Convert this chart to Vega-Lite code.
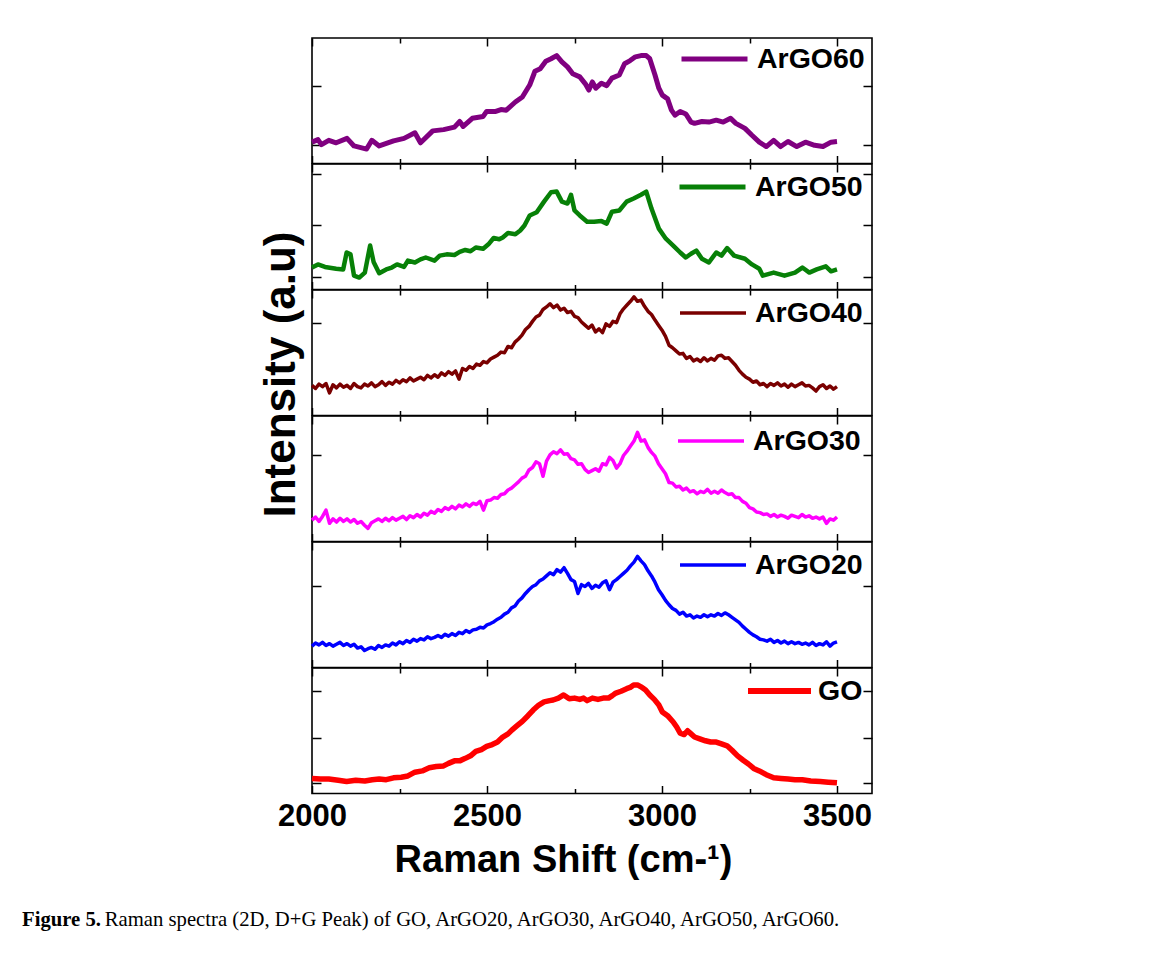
{
  "$schema": "https://vega.github.io/schema/vega-lite/v6.json",
  "background": "white",
  "padding": {"left": 22, "top": 36, "right": 10, "bottom": 10},
  "bounds": "flush",
  "config": {
    "view": {"stroke": "black", "strokeWidth": 1.6},
    "axis": {"domain": false, "grid": false, "tickColor": "black", "tickWidth": 1.5, "labels": false},
    "legend": {"title": null}
  },
  "title": {
    "text": "Figure 5.",
    "subtitle": "\u200b\u2003\u2003\u2003\u2003Raman spectra (2D, D+G Peak) of GO, ArGO20, ArGO30, ArGO40, ArGO50, ArGO60.",
    "orient": "bottom", "anchor": "start", "frame": "group", "dx": -290, "offset": 30,
    "font": "Liberation Serif", "fontSize": 20.7, "fontWeight": "bold", "color": "black",
    "subtitleFont": "Liberation Serif", "subtitleFontSize": 20.7, "subtitleFontWeight": "normal",
    "subtitleColor": "black", "subtitlePadding": -20.7
  },
  "datasets": {
    "ArGO60": [
      {"shift":2000,"intensity":17},{"shift":2017,"intensity":19},{"shift":2027,"intensity":15},{"shift":2048,"intensity":18.5},{"shift":2069,"intensity":16.5},{"shift":2100,"intensity":20},{"shift":2120,"intensity":14},{"shift":2156,"intensity":11.5},{"shift":2171,"intensity":18.5},{"shift":2192,"intensity":14},{"shift":2233,"intensity":18},{"shift":2263,"intensity":20},{"shift":2294,"intensity":24.5},{"shift":2310,"intensity":16.5},{"shift":2345,"intensity":26},{"shift":2376,"intensity":27},{"shift":2407,"intensity":29},{"shift":2422,"intensity":33.5},{"shift":2432,"intensity":29.5},{"shift":2458,"intensity":36},{"shift":2489,"intensity":37.5},{"shift":2499,"intensity":41.5},{"shift":2525,"intensity":41.5},{"shift":2540,"intensity":43},{"shift":2555,"intensity":42.5},{"shift":2581,"intensity":49},{"shift":2601,"intensity":53},{"shift":2622,"intensity":62.5},{"shift":2637,"intensity":73.5},{"shift":2652,"intensity":75.5},{"shift":2668,"intensity":81.5},{"shift":2683,"intensity":83.5},{"shift":2699,"intensity":86},{"shift":2714,"intensity":81},{"shift":2730,"intensity":77},{"shift":2745,"intensity":71.5},{"shift":2765,"intensity":69},{"shift":2781,"intensity":63.5},{"shift":2791,"intensity":58.5},{"shift":2801,"intensity":65},{"shift":2811,"intensity":60},{"shift":2827,"intensity":64},{"shift":2842,"intensity":62},{"shift":2857,"intensity":68},{"shift":2878,"intensity":70.5},{"shift":2893,"intensity":79.5},{"shift":2909,"intensity":82},{"shift":2924,"intensity":85},{"shift":2940,"intensity":86},{"shift":2955,"intensity":86},{"shift":2965,"intensity":83.5},{"shift":2980,"intensity":70.5},{"shift":2991,"intensity":60},{"shift":3001,"intensity":54.5},{"shift":3016,"intensity":51.5},{"shift":3027,"intensity":42.5},{"shift":3037,"intensity":38.5},{"shift":3052,"intensity":41.5},{"shift":3068,"intensity":39.5},{"shift":3083,"intensity":33},{"shift":3093,"intensity":32},{"shift":3114,"intensity":33.5},{"shift":3134,"intensity":33},{"shift":3155,"intensity":34.5},{"shift":3175,"intensity":33},{"shift":3196,"intensity":36},{"shift":3211,"intensity":32},{"shift":3237,"intensity":28},{"shift":3257,"intensity":22.5},{"shift":3278,"intensity":17},{"shift":3298,"intensity":13.5},{"shift":3319,"intensity":18.5},{"shift":3339,"intensity":13.5},{"shift":3360,"intensity":17.5},{"shift":3385,"intensity":13.5},{"shift":3410,"intensity":17},{"shift":3436,"intensity":14.5},{"shift":3460,"intensity":13.5},{"shift":3483,"intensity":17},{"shift":3500,"intensity":17.5}
    ],
    "ArGO50": [
      {"shift":2000,"intensity":17.5},{"shift":2017,"intensity":20},{"shift":2037,"intensity":18},{"shift":2069,"intensity":16.5},{"shift":2089,"intensity":16},{"shift":2099,"intensity":29.5},{"shift":2110,"intensity":28},{"shift":2120,"intensity":11},{"shift":2135,"intensity":9.5},{"shift":2151,"intensity":13.5},{"shift":2166,"intensity":35},{"shift":2176,"intensity":22},{"shift":2192,"intensity":13},{"shift":2212,"intensity":16},{"shift":2228,"intensity":17.5},{"shift":2243,"intensity":20},{"shift":2263,"intensity":18},{"shift":2274,"intensity":23},{"shift":2294,"intensity":21.5},{"shift":2310,"intensity":24},{"shift":2325,"intensity":25.5},{"shift":2350,"intensity":23},{"shift":2365,"intensity":27},{"shift":2385,"intensity":28},{"shift":2407,"intensity":27.5},{"shift":2422,"intensity":30},{"shift":2438,"intensity":31.5},{"shift":2453,"intensity":30.5},{"shift":2468,"intensity":33.5},{"shift":2489,"intensity":32.5},{"shift":2504,"intensity":36},{"shift":2519,"intensity":41},{"shift":2535,"intensity":40},{"shift":2545,"intensity":41.5},{"shift":2560,"intensity":45},{"shift":2581,"intensity":44},{"shift":2595,"intensity":47},{"shift":2607,"intensity":51},{"shift":2622,"intensity":59},{"shift":2642,"intensity":61.5},{"shift":2663,"intensity":70},{"shift":2683,"intensity":77.5},{"shift":2699,"intensity":78},{"shift":2714,"intensity":70},{"shift":2730,"intensity":68.5},{"shift":2740,"intensity":75.5},{"shift":2750,"intensity":63},{"shift":2765,"intensity":59},{"shift":2786,"intensity":54},{"shift":2806,"intensity":54},{"shift":2827,"intensity":54.5},{"shift":2842,"intensity":52.5},{"shift":2857,"intensity":62},{"shift":2878,"intensity":63},{"shift":2899,"intensity":70},{"shift":2919,"intensity":72.5},{"shift":2940,"intensity":75.5},{"shift":2955,"intensity":78},{"shift":2970,"intensity":64.5},{"shift":2991,"intensity":48.5},{"shift":3011,"intensity":40.5},{"shift":3032,"intensity":35},{"shift":3052,"intensity":29.5},{"shift":3068,"intensity":25.5},{"shift":3083,"intensity":28.5},{"shift":3098,"intensity":31},{"shift":3114,"intensity":24.5},{"shift":3134,"intensity":21.5},{"shift":3155,"intensity":29.5},{"shift":3170,"intensity":27},{"shift":3186,"intensity":33},{"shift":3206,"intensity":27},{"shift":3237,"intensity":24.5},{"shift":3257,"intensity":20},{"shift":3278,"intensity":16.5},{"shift":3288,"intensity":11},{"shift":3319,"intensity":13.5},{"shift":3350,"intensity":11},{"shift":3380,"intensity":13.5},{"shift":3401,"intensity":17.5},{"shift":3421,"intensity":13.5},{"shift":3442,"intensity":16},{"shift":3468,"intensity":18.5},{"shift":3483,"intensity":14.5},{"shift":3500,"intensity":16}
    ],
    "ArGO40": [
      {"shift":2000,"intensity":24},{"shift":2010,"intensity":21.5},{"shift":2020,"intensity":25},{"shift":2030,"intensity":23},{"shift":2040,"intensity":25.5},{"shift":2050,"intensity":18},{"shift":2060,"intensity":24.5},{"shift":2070,"intensity":22},{"shift":2080,"intensity":25},{"shift":2090,"intensity":22.5},{"shift":2100,"intensity":24},{"shift":2110,"intensity":21.5},{"shift":2120,"intensity":25.5},{"shift":2130,"intensity":23},{"shift":2140,"intensity":22},{"shift":2150,"intensity":25},{"shift":2160,"intensity":23.5},{"shift":2170,"intensity":26},{"shift":2180,"intensity":23},{"shift":2190,"intensity":24.5},{"shift":2200,"intensity":27},{"shift":2210,"intensity":24},{"shift":2220,"intensity":26.5},{"shift":2230,"intensity":25},{"shift":2240,"intensity":28},{"shift":2250,"intensity":26},{"shift":2260,"intensity":28.5},{"shift":2270,"intensity":27},{"shift":2280,"intensity":30},{"shift":2290,"intensity":27.5},{"shift":2300,"intensity":29},{"shift":2310,"intensity":30.5},{"shift":2320,"intensity":28.5},{"shift":2330,"intensity":32},{"shift":2340,"intensity":30},{"shift":2350,"intensity":32.5},{"shift":2360,"intensity":30.5},{"shift":2370,"intensity":34},{"shift":2380,"intensity":32},{"shift":2390,"intensity":35},{"shift":2400,"intensity":33},{"shift":2410,"intensity":35.5},{"shift":2420,"intensity":29},{"shift":2430,"intensity":37.5},{"shift":2440,"intensity":36},{"shift":2450,"intensity":39},{"shift":2460,"intensity":37.5},{"shift":2470,"intensity":41},{"shift":2480,"intensity":40},{"shift":2490,"intensity":43},{"shift":2500,"intensity":42},{"shift":2510,"intensity":45},{"shift":2520,"intensity":46.5},{"shift":2530,"intensity":48},{"shift":2540,"intensity":50.5},{"shift":2550,"intensity":50},{"shift":2560,"intensity":55},{"shift":2570,"intensity":54},{"shift":2580,"intensity":58.5},{"shift":2590,"intensity":61},{"shift":2600,"intensity":64},{"shift":2610,"intensity":68.5},{"shift":2620,"intensity":71},{"shift":2630,"intensity":75},{"shift":2640,"intensity":78.5},{"shift":2650,"intensity":80},{"shift":2660,"intensity":84.5},{"shift":2670,"intensity":86.5},{"shift":2680,"intensity":89},{"shift":2690,"intensity":86},{"shift":2700,"intensity":88},{"shift":2710,"intensity":84},{"shift":2720,"intensity":85.5},{"shift":2730,"intensity":82},{"shift":2740,"intensity":83},{"shift":2750,"intensity":79},{"shift":2760,"intensity":78},{"shift":2770,"intensity":74.5},{"shift":2780,"intensity":72},{"shift":2790,"intensity":69.5},{"shift":2800,"intensity":72},{"shift":2810,"intensity":66.5},{"shift":2820,"intensity":69},{"shift":2830,"intensity":66},{"shift":2840,"intensity":73},{"shift":2850,"intensity":71},{"shift":2860,"intensity":75},{"shift":2870,"intensity":74},{"shift":2880,"intensity":81},{"shift":2890,"intensity":85},{"shift":2900,"intensity":88},{"shift":2910,"intensity":91},{"shift":2920,"intensity":94.5},{"shift":2930,"intensity":91},{"shift":2940,"intensity":92},{"shift":2950,"intensity":87},{"shift":2960,"intensity":83},{"shift":2970,"intensity":80.5},{"shift":2980,"intensity":76},{"shift":2990,"intensity":72},{"shift":3000,"intensity":68},{"shift":3010,"intensity":63},{"shift":3020,"intensity":56},{"shift":3030,"intensity":54},{"shift":3040,"intensity":51.5},{"shift":3050,"intensity":49},{"shift":3060,"intensity":49.5},{"shift":3070,"intensity":45.5},{"shift":3080,"intensity":47},{"shift":3090,"intensity":43.5},{"shift":3100,"intensity":45},{"shift":3110,"intensity":43},{"shift":3120,"intensity":46},{"shift":3130,"intensity":43.5},{"shift":3140,"intensity":45.5},{"shift":3150,"intensity":44},{"shift":3160,"intensity":47.5},{"shift":3170,"intensity":48},{"shift":3180,"intensity":45.5},{"shift":3190,"intensity":46},{"shift":3200,"intensity":43},{"shift":3210,"intensity":40},{"shift":3220,"intensity":36},{"shift":3230,"intensity":33},{"shift":3240,"intensity":30.5},{"shift":3250,"intensity":29},{"shift":3260,"intensity":26.5},{"shift":3270,"intensity":27.5},{"shift":3280,"intensity":24.5},{"shift":3290,"intensity":25.5},{"shift":3300,"intensity":23},{"shift":3310,"intensity":25.5},{"shift":3320,"intensity":24},{"shift":3330,"intensity":26},{"shift":3340,"intensity":23.5},{"shift":3350,"intensity":25},{"shift":3360,"intensity":22.5},{"shift":3370,"intensity":25},{"shift":3380,"intensity":23},{"shift":3390,"intensity":24.5},{"shift":3400,"intensity":26},{"shift":3410,"intensity":23.5},{"shift":3420,"intensity":24},{"shift":3430,"intensity":22},{"shift":3440,"intensity":19.5},{"shift":3450,"intensity":23},{"shift":3460,"intensity":24.5},{"shift":3470,"intensity":21.5},{"shift":3480,"intensity":23.5},{"shift":3490,"intensity":21},{"shift":3500,"intensity":23}
    ],
    "ArGO30": [
      {"shift":2000,"intensity":17},{"shift":2010,"intensity":19.5},{"shift":2020,"intensity":16},{"shift":2030,"intensity":20},{"shift":2040,"intensity":25},{"shift":2050,"intensity":14.5},{"shift":2060,"intensity":18},{"shift":2070,"intensity":15.5},{"shift":2080,"intensity":18.5},{"shift":2090,"intensity":16},{"shift":2100,"intensity":18},{"shift":2110,"intensity":15.5},{"shift":2120,"intensity":17.5},{"shift":2130,"intensity":14.5},{"shift":2140,"intensity":16},{"shift":2150,"intensity":13},{"shift":2160,"intensity":10.5},{"shift":2170,"intensity":15},{"shift":2180,"intensity":16.5},{"shift":2190,"intensity":18},{"shift":2200,"intensity":16},{"shift":2210,"intensity":18.5},{"shift":2220,"intensity":16.5},{"shift":2230,"intensity":19},{"shift":2240,"intensity":17},{"shift":2250,"intensity":18.5},{"shift":2260,"intensity":20},{"shift":2270,"intensity":17.5},{"shift":2280,"intensity":20.5},{"shift":2290,"intensity":19},{"shift":2300,"intensity":21.5},{"shift":2310,"intensity":19.5},{"shift":2320,"intensity":22.5},{"shift":2330,"intensity":21},{"shift":2340,"intensity":24},{"shift":2350,"intensity":22.5},{"shift":2360,"intensity":25.5},{"shift":2370,"intensity":24},{"shift":2380,"intensity":27},{"shift":2390,"intensity":25.5},{"shift":2400,"intensity":28},{"shift":2410,"intensity":26},{"shift":2420,"intensity":29},{"shift":2430,"intensity":27.5},{"shift":2440,"intensity":30},{"shift":2450,"intensity":28},{"shift":2460,"intensity":30.5},{"shift":2470,"intensity":29.5},{"shift":2480,"intensity":32},{"shift":2490,"intensity":25},{"shift":2500,"intensity":32.5},{"shift":2510,"intensity":33},{"shift":2520,"intensity":35},{"shift":2530,"intensity":34.5},{"shift":2540,"intensity":37.5},{"shift":2550,"intensity":38},{"shift":2560,"intensity":41},{"shift":2570,"intensity":42.5},{"shift":2580,"intensity":45},{"shift":2590,"intensity":47.5},{"shift":2600,"intensity":50.5},{"shift":2610,"intensity":52},{"shift":2620,"intensity":57},{"shift":2630,"intensity":59},{"shift":2640,"intensity":63.5},{"shift":2650,"intensity":62},{"shift":2660,"intensity":52},{"shift":2670,"intensity":64},{"shift":2680,"intensity":69},{"shift":2690,"intensity":71.5},{"shift":2700,"intensity":70},{"shift":2710,"intensity":73},{"shift":2720,"intensity":69.5},{"shift":2730,"intensity":70},{"shift":2740,"intensity":66},{"shift":2750,"intensity":65},{"shift":2760,"intensity":61.5},{"shift":2770,"intensity":62},{"shift":2780,"intensity":57.5},{"shift":2790,"intensity":55},{"shift":2800,"intensity":56.5},{"shift":2810,"intensity":58},{"shift":2820,"intensity":56},{"shift":2830,"intensity":62},{"shift":2840,"intensity":61},{"shift":2850,"intensity":67},{"shift":2860,"intensity":64.5},{"shift":2870,"intensity":58.5},{"shift":2880,"intensity":62},{"shift":2890,"intensity":68.5},{"shift":2900,"intensity":72},{"shift":2910,"intensity":76},{"shift":2920,"intensity":80},{"shift":2930,"intensity":87},{"shift":2940,"intensity":80},{"shift":2950,"intensity":81},{"shift":2960,"intensity":75},{"shift":2970,"intensity":71},{"shift":2980,"intensity":68},{"shift":2990,"intensity":62},{"shift":3000,"intensity":58},{"shift":3010,"intensity":54},{"shift":3020,"intensity":47},{"shift":3030,"intensity":46.5},{"shift":3040,"intensity":43.5},{"shift":3050,"intensity":44},{"shift":3060,"intensity":41},{"shift":3070,"intensity":42.5},{"shift":3080,"intensity":39.5},{"shift":3090,"intensity":40.5},{"shift":3100,"intensity":38},{"shift":3110,"intensity":40},{"shift":3120,"intensity":39},{"shift":3130,"intensity":41.5},{"shift":3140,"intensity":38.5},{"shift":3150,"intensity":40},{"shift":3160,"intensity":38.5},{"shift":3170,"intensity":41},{"shift":3180,"intensity":39},{"shift":3190,"intensity":37.5},{"shift":3200,"intensity":38},{"shift":3210,"intensity":35},{"shift":3220,"intensity":35},{"shift":3230,"intensity":32},{"shift":3240,"intensity":30.5},{"shift":3250,"intensity":27},{"shift":3260,"intensity":26},{"shift":3270,"intensity":23.5},{"shift":3280,"intensity":23},{"shift":3290,"intensity":21.5},{"shift":3300,"intensity":22},{"shift":3310,"intensity":20},{"shift":3320,"intensity":21.5},{"shift":3330,"intensity":19.5},{"shift":3340,"intensity":21},{"shift":3350,"intensity":20},{"shift":3360,"intensity":18.5},{"shift":3370,"intensity":21},{"shift":3380,"intensity":20},{"shift":3390,"intensity":19},{"shift":3400,"intensity":21.5},{"shift":3410,"intensity":19.5},{"shift":3420,"intensity":20.5},{"shift":3430,"intensity":18.5},{"shift":3440,"intensity":19.5},{"shift":3450,"intensity":18},{"shift":3460,"intensity":19.5},{"shift":3470,"intensity":14.5},{"shift":3480,"intensity":18},{"shift":3490,"intensity":17},{"shift":3500,"intensity":19.5}
    ],
    "ArGO20": [
      {"shift":2000,"intensity":17},{"shift":2010,"intensity":19.5},{"shift":2020,"intensity":18},{"shift":2030,"intensity":20},{"shift":2040,"intensity":17.5},{"shift":2050,"intensity":19},{"shift":2060,"intensity":17},{"shift":2070,"intensity":18.5},{"shift":2080,"intensity":20},{"shift":2090,"intensity":17.5},{"shift":2100,"intensity":19},{"shift":2110,"intensity":17},{"shift":2120,"intensity":18.5},{"shift":2130,"intensity":15.5},{"shift":2140,"intensity":16.5},{"shift":2150,"intensity":13.5},{"shift":2160,"intensity":15},{"shift":2170,"intensity":16},{"shift":2180,"intensity":14.5},{"shift":2190,"intensity":17.5},{"shift":2200,"intensity":16},{"shift":2210,"intensity":18},{"shift":2220,"intensity":17},{"shift":2230,"intensity":19.5},{"shift":2240,"intensity":18},{"shift":2250,"intensity":20.5},{"shift":2260,"intensity":19},{"shift":2270,"intensity":21.5},{"shift":2280,"intensity":20},{"shift":2290,"intensity":22.5},{"shift":2300,"intensity":21},{"shift":2310,"intensity":23},{"shift":2320,"intensity":22},{"shift":2330,"intensity":24.5},{"shift":2340,"intensity":23},{"shift":2350,"intensity":24},{"shift":2360,"intensity":25.5},{"shift":2370,"intensity":24},{"shift":2380,"intensity":26.5},{"shift":2390,"intensity":25},{"shift":2400,"intensity":27},{"shift":2410,"intensity":25.5},{"shift":2420,"intensity":28},{"shift":2430,"intensity":27},{"shift":2440,"intensity":29.5},{"shift":2450,"intensity":28},{"shift":2460,"intensity":30},{"shift":2470,"intensity":30.5},{"shift":2480,"intensity":32},{"shift":2490,"intensity":31.5},{"shift":2500,"intensity":34},{"shift":2510,"intensity":35},{"shift":2520,"intensity":36.5},{"shift":2530,"intensity":38.5},{"shift":2540,"intensity":40},{"shift":2550,"intensity":42.5},{"shift":2560,"intensity":44},{"shift":2570,"intensity":47.5},{"shift":2580,"intensity":49},{"shift":2590,"intensity":53},{"shift":2600,"intensity":55.5},{"shift":2610,"intensity":59},{"shift":2620,"intensity":62},{"shift":2630,"intensity":64.5},{"shift":2640,"intensity":66},{"shift":2650,"intensity":69},{"shift":2660,"intensity":70.5},{"shift":2670,"intensity":73},{"shift":2680,"intensity":75.5},{"shift":2690,"intensity":74},{"shift":2700,"intensity":78},{"shift":2710,"intensity":76},{"shift":2720,"intensity":79.5},{"shift":2730,"intensity":75},{"shift":2740,"intensity":70},{"shift":2750,"intensity":68.5},{"shift":2760,"intensity":59},{"shift":2770,"intensity":66},{"shift":2780,"intensity":64.5},{"shift":2790,"intensity":67},{"shift":2800,"intensity":63},{"shift":2810,"intensity":65.5},{"shift":2820,"intensity":64},{"shift":2830,"intensity":67.5},{"shift":2840,"intensity":69},{"shift":2850,"intensity":62},{"shift":2860,"intensity":68},{"shift":2870,"intensity":70},{"shift":2880,"intensity":72.5},{"shift":2890,"intensity":75},{"shift":2900,"intensity":77.5},{"shift":2910,"intensity":81},{"shift":2920,"intensity":84},{"shift":2930,"intensity":88.5},{"shift":2940,"intensity":85},{"shift":2950,"intensity":82},{"shift":2960,"intensity":77},{"shift":2970,"intensity":73},{"shift":2980,"intensity":68},{"shift":2990,"intensity":62},{"shift":3000,"intensity":58},{"shift":3010,"intensity":53.5},{"shift":3020,"intensity":50},{"shift":3030,"intensity":47},{"shift":3040,"intensity":45.5},{"shift":3050,"intensity":42.5},{"shift":3060,"intensity":44},{"shift":3070,"intensity":41},{"shift":3080,"intensity":42},{"shift":3090,"intensity":39.5},{"shift":3100,"intensity":41},{"shift":3110,"intensity":40},{"shift":3120,"intensity":42},{"shift":3130,"intensity":40.5},{"shift":3140,"intensity":42},{"shift":3150,"intensity":41},{"shift":3160,"intensity":43},{"shift":3170,"intensity":41.5},{"shift":3180,"intensity":43.5},{"shift":3190,"intensity":42},{"shift":3200,"intensity":40},{"shift":3210,"intensity":38},{"shift":3220,"intensity":36},{"shift":3230,"intensity":33},{"shift":3240,"intensity":30.5},{"shift":3250,"intensity":28},{"shift":3260,"intensity":26},{"shift":3270,"intensity":24.5},{"shift":3280,"intensity":22.5},{"shift":3290,"intensity":22},{"shift":3300,"intensity":21},{"shift":3310,"intensity":22.5},{"shift":3320,"intensity":20},{"shift":3330,"intensity":21.5},{"shift":3340,"intensity":19.5},{"shift":3350,"intensity":21},{"shift":3360,"intensity":19},{"shift":3370,"intensity":20.5},{"shift":3380,"intensity":19},{"shift":3390,"intensity":20},{"shift":3400,"intensity":18.5},{"shift":3410,"intensity":19.5},{"shift":3420,"intensity":18},{"shift":3430,"intensity":20},{"shift":3440,"intensity":17.5},{"shift":3450,"intensity":19},{"shift":3460,"intensity":18},{"shift":3470,"intensity":20.5},{"shift":3480,"intensity":17},{"shift":3490,"intensity":19.5},{"shift":3500,"intensity":20.5}
    ],
    "GO": [
      {"shift":2000,"intensity":12},{"shift":2024,"intensity":11.5},{"shift":2048,"intensity":11.5},{"shift":2075,"intensity":10.5},{"shift":2099,"intensity":9.5},{"shift":2125,"intensity":10.5},{"shift":2151,"intensity":10},{"shift":2172,"intensity":11},{"shift":2192,"intensity":11.5},{"shift":2212,"intensity":11},{"shift":2233,"intensity":12.5},{"shift":2255,"intensity":13},{"shift":2274,"intensity":14},{"shift":2294,"intensity":17},{"shift":2315,"intensity":18},{"shift":2335,"intensity":20.5},{"shift":2355,"intensity":21.5},{"shift":2376,"intensity":22},{"shift":2390,"intensity":24},{"shift":2407,"intensity":26},{"shift":2422,"intensity":26},{"shift":2438,"intensity":28},{"shift":2453,"intensity":30},{"shift":2468,"intensity":33.5},{"shift":2484,"intensity":35},{"shift":2499,"intensity":37.5},{"shift":2515,"intensity":39},{"shift":2530,"intensity":41},{"shift":2545,"intensity":45},{"shift":2560,"intensity":47.5},{"shift":2571,"intensity":50.5},{"shift":2586,"intensity":54},{"shift":2601,"intensity":57.5},{"shift":2617,"intensity":62},{"shift":2632,"intensity":66.5},{"shift":2648,"intensity":70.5},{"shift":2663,"intensity":73},{"shift":2679,"intensity":74},{"shift":2689,"intensity":74.5},{"shift":2704,"intensity":76},{"shift":2719,"intensity":78.5},{"shift":2735,"intensity":75.5},{"shift":2750,"intensity":76},{"shift":2765,"intensity":75},{"shift":2776,"intensity":76},{"shift":2786,"intensity":74},{"shift":2801,"intensity":76},{"shift":2817,"intensity":75},{"shift":2832,"intensity":76},{"shift":2847,"intensity":76},{"shift":2858,"intensity":78},{"shift":2868,"intensity":80},{"shift":2883,"intensity":81.5},{"shift":2899,"intensity":83.5},{"shift":2909,"intensity":84.5},{"shift":2919,"intensity":86.5},{"shift":2930,"intensity":86.5},{"shift":2940,"intensity":85},{"shift":2953,"intensity":82.5},{"shift":2965,"intensity":78.5},{"shift":2978,"intensity":75},{"shift":2991,"intensity":70.5},{"shift":3001,"intensity":65},{"shift":3016,"intensity":62},{"shift":3032,"intensity":57},{"shift":3042,"intensity":53},{"shift":3052,"intensity":48},{"shift":3063,"intensity":47},{"shift":3073,"intensity":50},{"shift":3083,"intensity":47.5},{"shift":3093,"intensity":45},{"shift":3108,"intensity":43.5},{"shift":3124,"intensity":42},{"shift":3139,"intensity":41},{"shift":3155,"intensity":41},{"shift":3170,"intensity":39.5},{"shift":3186,"intensity":38},{"shift":3200,"intensity":34.5},{"shift":3216,"intensity":30},{"shift":3232,"intensity":26.5},{"shift":3247,"intensity":23.5},{"shift":3262,"intensity":20},{"shift":3278,"intensity":18},{"shift":3298,"intensity":15},{"shift":3319,"intensity":12.5},{"shift":3340,"intensity":12},{"shift":3360,"intensity":11.5},{"shift":3380,"intensity":11},{"shift":3401,"intensity":11},{"shift":3425,"intensity":10},{"shift":3452,"intensity":9.5},{"shift":3475,"intensity":9},{"shift":3500,"intensity":8.5}
    ]
  },
  "spacing": 0,
  "resolve": {"scale": {"color": "independent"}, "legend": {"color": "independent"}},
  "vconcat": [
    {
      "width": 560, "height": 125.5,
      "data": {"name": "ArGO60"},
      "layer": [
        {"mark": {"type": "line", "strokeWidth": 5, "strokeJoin": "round"},
         "encoding": {
           "x": {"field": "shift", "type": "quantitative", "scale": {"domain": [2000, 3500]}, "axis": {"orient": "bottom", "title": null, "values": [2000, 2250, 2500, 2750, 3000, 3250, 3500], "tickSize": {"condition": {"test": "datum.value % 500 === 0", "value": -8}, "value": -5}}},
           "y": {"field": "intensity", "type": "quantitative", "scale": {"domain": [0, 100]}, "axis": {"orient": "left", "title": null, "values": [15, 62], "tickSize": -9}},
           "color": {"datum": "ArGO60", "type": "nominal", "scale": {"domain": ["ArGO60"], "range": ["#800080"]},
             "legend": {"orient": "top-right", "offset": 7, "symbolType": "stroke", "symbolSize": 4356, "symbolStrokeWidth": 5, "clipHeight": 28, "labelFont": "Liberation Sans", "labelFontSize": 28.5, "labelFontWeight": "bold", "labelColor": "black", "labelOffset": 7, "padding": 0}}
         }},
        {"mark": {"type": "point", "opacity": 0},
         "encoding": {
           "x": {"field": "shift", "type": "quantitative", "axis": {"orient": "top", "title": null, "values": [2000, 2250, 2500, 2750, 3000, 3250, 3500], "tickSize": {"condition": {"test": "datum.value % 500 === 0", "value": -8}, "value": -5}}},
           "y": {"field": "intensity", "type": "quantitative", "axis": {"orient": "right", "title": null, "values": [15, 62], "tickSize": -9}}
         }}
      ],
      "resolve": {"axis": {"x": "independent", "y": "independent"}}
    },
    {
      "width": 560, "height": 125.5,
      "data": {"name": "ArGO50"},
      "layer": [
        {"mark": {"type": "line", "strokeWidth": 4.5, "strokeJoin": "round"},
         "encoding": {
           "x": {"field": "shift", "type": "quantitative", "scale": {"domain": [2000, 3500]}, "axis": {"orient": "bottom", "title": null, "values": [2000, 2250, 2500, 2750, 3000, 3250, 3500], "tickSize": {"condition": {"test": "datum.value % 500 === 0", "value": -8}, "value": -5}}},
           "y": {"field": "intensity", "type": "quantitative", "scale": {"domain": [0, 100]}, "axis": {"orient": "left", "title": null, "values": [10, 51.5, 92], "tickSize": -9}},
           "color": {"datum": "ArGO50", "type": "nominal", "scale": {"domain": ["ArGO50"], "range": ["#078007"]},
             "legend": {"orient": "top-right", "offset": 9, "symbolType": "stroke", "symbolSize": 4356, "symbolStrokeWidth": 5, "clipHeight": 28, "labelFont": "Liberation Sans", "labelFontSize": 28.5, "labelFontWeight": "bold", "labelColor": "black", "labelOffset": 7, "padding": 0}}
         }},
        {"mark": {"type": "point", "opacity": 0},
         "encoding": {
           "x": {"field": "shift", "type": "quantitative", "axis": {"orient": "top", "title": null, "values": [2000, 2250, 2500, 2750, 3000, 3250, 3500], "tickSize": {"condition": {"test": "datum.value % 500 === 0", "value": -8}, "value": -5}}},
           "y": {"field": "intensity", "type": "quantitative", "axis": {"orient": "right", "title": null, "values": [10, 51.5, 92], "tickSize": -9}}
         }}
      ],
      "resolve": {"axis": {"x": "independent", "y": "independent"}}
    },
    {
      "width": 560, "height": 125.5,
      "data": {"name": "ArGO40"},
      "layer": [
        {"mark": {"type": "line", "strokeWidth": 3.5, "strokeJoin": "round"},
         "encoding": {
           "x": {"field": "shift", "type": "quantitative", "scale": {"domain": [2000, 3500]}, "axis": {"orient": "bottom", "title": null, "values": [2000, 2250, 2500, 2750, 3000, 3250, 3500], "tickSize": {"condition": {"test": "datum.value % 500 === 0", "value": -8}, "value": -5}}},
           "y": {"field": "intensity", "type": "quantitative", "scale": {"domain": [0, 100]}, "axis": {"orient": "left", "values": [73.5], "tickSize": -9,
             "title": "Intensity (a.u)", "titleFont": "Liberation Sans", "titleFontSize": 44, "titleFontWeight": "bold", "titleColor": "black", "titleAngle": 270, "titleAlign": "center", "titleBaseline": "alphabetic", "titleX": -18, "titleY": 84}},
           "color": {"datum": "ArGO40", "type": "nominal", "scale": {"domain": ["ArGO40"], "range": ["#7a0000"]},
             "legend": {"orient": "top-right", "offset": 9, "symbolType": "stroke", "symbolSize": 4356, "symbolStrokeWidth": 3.5, "clipHeight": 28, "labelFont": "Liberation Sans", "labelFontSize": 28.5, "labelFontWeight": "bold", "labelColor": "black", "labelOffset": 7, "padding": 0}}
         }},
        {"mark": {"type": "point", "opacity": 0},
         "encoding": {
           "x": {"field": "shift", "type": "quantitative", "axis": {"orient": "top", "title": null, "values": [2000, 2250, 2500, 2750, 3000, 3250, 3500], "tickSize": {"condition": {"test": "datum.value % 500 === 0", "value": -8}, "value": -5}}},
           "y": {"field": "intensity", "type": "quantitative", "axis": {"orient": "right", "title": null, "values": [73.5], "tickSize": -9}}
         }}
      ],
      "resolve": {"axis": {"x": "independent", "y": "independent"}}
    },
    {
      "width": 560, "height": 125.5,
      "data": {"name": "ArGO30"},
      "layer": [
        {"mark": {"type": "line", "strokeWidth": 3.5, "strokeJoin": "round"},
         "encoding": {
           "x": {"field": "shift", "type": "quantitative", "scale": {"domain": [2000, 3500]}, "axis": {"orient": "bottom", "title": null, "values": [2000, 2250, 2500, 2750, 3000, 3250, 3500], "tickSize": {"condition": {"test": "datum.value % 500 === 0", "value": -8}, "value": -5}}},
           "y": {"field": "intensity", "type": "quantitative", "scale": {"domain": [0, 100]}, "axis": {"orient": "left", "title": null, "values": [69], "tickSize": -9}},
           "color": {"datum": "ArGO30", "type": "nominal", "scale": {"domain": ["ArGO30"], "range": ["#ff00ff"]},
             "legend": {"orient": "top-right", "offset": 11, "symbolType": "stroke", "symbolSize": 4356, "symbolStrokeWidth": 3.5, "clipHeight": 28, "labelFont": "Liberation Sans", "labelFontSize": 28.5, "labelFontWeight": "bold", "labelColor": "black", "labelOffset": 7, "padding": 0}}
         }},
        {"mark": {"type": "point", "opacity": 0},
         "encoding": {
           "x": {"field": "shift", "type": "quantitative", "axis": {"orient": "top", "title": null, "values": [2000, 2250, 2500, 2750, 3000, 3250, 3500], "tickSize": {"condition": {"test": "datum.value % 500 === 0", "value": -8}, "value": -5}}},
           "y": {"field": "intensity", "type": "quantitative", "axis": {"orient": "right", "title": null, "values": [69], "tickSize": -9}}
         }}
      ],
      "resolve": {"axis": {"x": "independent", "y": "independent"}}
    },
    {
      "width": 560, "height": 125.5,
      "data": {"name": "ArGO20"},
      "layer": [
        {"mark": {"type": "line", "strokeWidth": 3.5, "strokeJoin": "round"},
         "encoding": {
           "x": {"field": "shift", "type": "quantitative", "scale": {"domain": [2000, 3500]}, "axis": {"orient": "bottom", "title": null, "values": [2000, 2250, 2500, 2750, 3000, 3250, 3500], "tickSize": {"condition": {"test": "datum.value % 500 === 0", "value": -8}, "value": -5}}},
           "y": {"field": "intensity", "type": "quantitative", "scale": {"domain": [0, 100]}, "axis": {"orient": "left", "title": null, "values": [65], "tickSize": -9}},
           "color": {"datum": "ArGO20", "type": "nominal", "scale": {"domain": ["ArGO20"], "range": ["#0000ff"]},
             "legend": {"orient": "top-right", "offset": 9, "symbolType": "stroke", "symbolSize": 4356, "symbolStrokeWidth": 3.5, "clipHeight": 28, "labelFont": "Liberation Sans", "labelFontSize": 28.5, "labelFontWeight": "bold", "labelColor": "black", "labelOffset": 7, "padding": 0}}
         }},
        {"mark": {"type": "point", "opacity": 0},
         "encoding": {
           "x": {"field": "shift", "type": "quantitative", "axis": {"orient": "top", "title": null, "values": [2000, 2250, 2500, 2750, 3000, 3250, 3500], "tickSize": {"condition": {"test": "datum.value % 500 === 0", "value": -8}, "value": -5}}},
           "y": {"field": "intensity", "type": "quantitative", "axis": {"orient": "right", "title": null, "values": [65], "tickSize": -9}}
         }}
      ],
      "resolve": {"axis": {"x": "independent", "y": "independent"}}
    },
    {
      "width": 560, "height": 125.5,
      "data": {"name": "GO"},
      "layer": [
        {"mark": {"type": "line", "strokeWidth": 5.5, "strokeJoin": "round"},
         "encoding": {
           "x": {"field": "shift", "type": "quantitative", "scale": {"domain": [2000, 3500]}, "axis": {"orient": "bottom", "values": [2000, 2250, 2500, 2750, 3000, 3250, 3500], "tickSize": {"condition": {"test": "datum.value % 500 === 0", "value": -8}, "value": -5},
             "labels": true, "format": "d", "labelExpr": "datum.value % 500 === 0 ? datum.label : ''", "labelFont": "Liberation Sans", "labelFontSize": 31, "labelFontWeight": "bold", "labelColor": "black", "labelPadding": 16, "labelFlush": false, "labelOverlap": false, "labelBound": false,
             "title": "Raman Shift (cm-\u00b9)", "titleFont": "Liberation Sans", "titleFontSize": 38, "titleFontWeight": "bold", "titleColor": "black", "titleAlign": "center", "titleBaseline": "alphabetic", "titleX": 251, "titleY": 78}},
           "y": {"field": "intensity", "type": "quantitative", "scale": {"domain": [0, 100]}, "axis": {"orient": "left", "title": null, "values": [8.6, 44.4, 82], "tickSize": -9}},
           "color": {"datum": "GO", "type": "nominal", "scale": {"domain": ["GO"], "range": ["#ff0000"]},
             "legend": {"orient": "top-right", "offset": 9, "symbolType": "stroke", "symbolSize": 3969, "symbolStrokeWidth": 6, "clipHeight": 28, "labelFont": "Liberation Sans", "labelFontSize": 28.5, "labelFontWeight": "bold", "labelColor": "black", "labelOffset": 4, "padding": 0}}
         }},
        {"mark": {"type": "point", "opacity": 0},
         "encoding": {
           "x": {"field": "shift", "type": "quantitative", "axis": {"orient": "top", "title": null, "values": [2000, 2250, 2500, 2750, 3000, 3250, 3500], "tickSize": {"condition": {"test": "datum.value % 500 === 0", "value": -8}, "value": -5}}},
           "y": {"field": "intensity", "type": "quantitative", "axis": {"orient": "right", "title": null, "values": [8.6, 44.4, 82], "tickSize": -9}}
         }}
      ],
      "resolve": {"axis": {"x": "independent", "y": "independent"}}
    }
  ]
}
